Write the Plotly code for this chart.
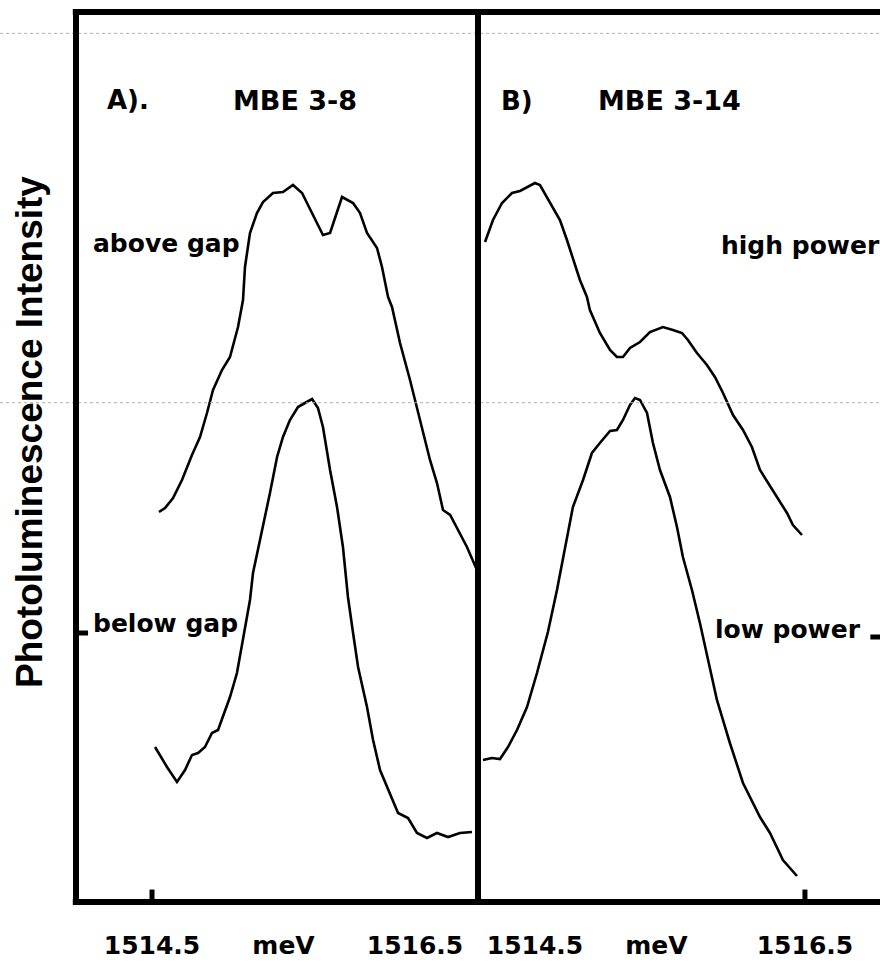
import plotly.graph_objects as go

# ---------------- data (energy in meV, intensity in arbitrary units) ----------------
a_above_x = [1514.553, 1514.599, 1514.660, 1514.728, 1514.804, 1514.865, 1514.918, 1514.964,
             1515.032, 1515.093, 1515.154, 1515.192, 1515.207, 1515.245, 1515.298, 1515.344,
             1515.420, 1515.496, 1515.572, 1515.641, 1515.724, 1515.800, 1515.854, 1515.907,
             1515.945, 1516.029, 1516.082, 1516.135, 1516.211, 1516.249, 1516.295, 1516.325,
             1516.386, 1516.462, 1516.538, 1516.614, 1516.667, 1516.713, 1516.767, 1516.827,
             1516.895, 1516.971]
a_above_y = [390, 394, 404, 422, 447, 465, 489, 512,
             532, 545, 575, 602, 635, 669, 689, 700,
             709, 710, 717, 709, 687, 667, 669, 689,
             705, 699, 689, 669, 654, 635, 605, 595,
             559, 522, 482, 442, 419, 392, 387, 372,
             355, 332]

a_below_x = [1514.523, 1514.614, 1514.690, 1514.751, 1514.804, 1514.850, 1514.903, 1514.956,
             1515.002, 1515.040, 1515.093, 1515.146, 1515.192, 1515.245, 1515.268, 1515.344,
             1515.397, 1515.451, 1515.496, 1515.549, 1515.610, 1515.663, 1515.717, 1515.762,
             1515.800, 1515.854, 1515.907, 1515.952, 1515.990, 1516.029, 1516.067, 1516.135,
             1516.181, 1516.234, 1516.295, 1516.371, 1516.447, 1516.515, 1516.591, 1516.667,
             1516.751, 1516.842, 1516.933]
a_below_y = [155, 135, 120, 132, 147, 149, 155, 169,
             172, 185, 205, 229, 262, 302, 329, 375,
             409, 445, 465, 482, 495, 499, 503, 494,
             475, 432, 395, 355, 305, 269, 235, 195,
             162, 132, 112, 89, 84, 69, 64, 69,
             65, 69, 70]

b_high_x = [1514.130, 1514.189, 1514.256, 1514.330, 1514.389, 1514.441, 1514.500, 1514.537,
            1514.589, 1514.648, 1514.685, 1514.737, 1514.811, 1514.833, 1514.885, 1514.907,
            1514.981, 1515.056, 1515.107, 1515.152, 1515.204, 1515.278, 1515.352, 1515.448,
            1515.522, 1515.589, 1515.633, 1515.700, 1515.774, 1515.833, 1515.893, 1515.967,
            1516.041, 1516.107, 1516.167, 1516.226, 1516.293, 1516.367, 1516.411, 1516.478]
b_high_y = [660, 682, 699, 709, 711, 715, 719, 717,
            705, 692, 682, 662, 632, 622, 605, 592,
            569, 552, 545, 545, 554, 560, 570, 575,
            572, 569, 562, 549, 537, 525, 509, 487,
            472, 455, 432, 419, 405, 389, 377, 367]

b_low_x = [1514.115, 1514.181, 1514.241, 1514.300, 1514.367, 1514.441, 1514.515, 1514.596,
           1514.663, 1514.737, 1514.781, 1514.856, 1514.922, 1514.981, 1515.056, 1515.107,
           1515.152, 1515.204, 1515.241, 1515.278, 1515.330, 1515.374, 1515.426, 1515.500,
           1515.552, 1515.596, 1515.663, 1515.722, 1515.744, 1515.848, 1515.944, 1516.041,
           1516.167, 1516.241, 1516.337, 1516.441]
b_low_y = [142, 144, 143, 155, 172, 195, 229, 270,
           312, 362, 395, 422, 449, 459, 471, 472,
           482, 497, 504, 502, 489, 459, 432, 405,
           375, 345, 312, 279, 265, 202, 159, 119,
           85, 69, 42, 26]

a_tick_vals = [1514.5, 1515.5, 1516.5]
b_tick_vals = [1514.5, 1515.4, 1516.5]
tick_text = ["1514.5", "meV", "1516.5"]
y_tick_val = 269

LABEL_FONT = dict(family="DejaVu Sans", size=25, color="black", weight="bold")

fig = go.Figure()
line = dict(color="black", width=2.6)
fig.add_trace(go.Scatter(x=a_above_x, y=a_above_y, mode="lines", line=line, xaxis="x", yaxis="y"))
fig.add_trace(go.Scatter(x=a_below_x, y=a_below_y, mode="lines", line=line, xaxis="x", yaxis="y"))
fig.add_trace(go.Scatter(x=b_high_x, y=b_high_y, mode="lines", line=line, xaxis="x2", yaxis="y"))
fig.add_trace(go.Scatter(x=b_low_x, y=b_low_y, mode="lines", line=line, xaxis="x2", yaxis="y"))

xcommon = dict(showgrid=False, zeroline=False, showline=False, ticks="",
               tickfont=LABEL_FONT, ticklabelstandoff=26, fixedrange=True)
fig.update_layout(
    width=880, height=964,
    margin=dict(l=76, r=0, t=12, b=62),
    paper_bgcolor="white", plot_bgcolor="white",
    showlegend=False,
    xaxis=dict(domain=[0, 0.5], range=[1513.922, 1516.979], tickvals=a_tick_vals,
               ticktext=tick_text, **xcommon),
    xaxis2=dict(domain=[0.5, 1.0], range=[1514.078, 1517.056], tickvals=b_tick_vals,
                ticktext=tick_text, anchor="y", **xcommon),
    yaxis=dict(range=[0, 890], showgrid=False, zeroline=False, showline=False,
               showticklabels=False, ticks="", fixedrange=True),
)

shapes = []
# faint fold lines of the scanned page
for yv in [0.976, 0.561]:
    shapes.append(dict(type="line", xref="paper", yref="paper", x0=-0.0945, x1=1.0,
                       y0=yv, y1=yv, line=dict(color="#b0b0b0", width=1, dash="dot")))
# frame
fw = 6
shapes += [
    dict(type="line", xref="paper", yref="paper", x0=0, x1=0, y0=-0.003, y1=1.003,
         line=dict(color="black", width=fw)),
    dict(type="line", xref="paper", yref="paper", x0=0.5, x1=0.5, y0=-0.003, y1=1.003,
         line=dict(color="black", width=fw)),
    dict(type="line", xref="paper", yref="paper", x0=-0.004, x1=1.0, y0=0, y1=0,
         line=dict(color="black", width=fw)),
    dict(type="line", xref="paper", yref="paper", x0=-0.004, x1=1.0, y0=1, y1=1,
         line=dict(color="black", width=fw)),
]
# tick marks
shapes += [
    dict(type="line", xref="x", yref="paper", x0=a_tick_vals[0], x1=a_tick_vals[0], y0=0, y1=0.014,
         line=dict(color="black", width=5)),
    dict(type="line", xref="x2", yref="paper", x0=b_tick_vals[2], x1=b_tick_vals[2], y0=0, y1=0.014,
         line=dict(color="black", width=5)),
    dict(type="line", xref="paper", yref="y", x0=0, x1=0.015, y0=y_tick_val, y1=y_tick_val,
         line=dict(color="black", width=5)),
    dict(type="line", xref="paper", yref="y", x0=0.988, x1=1.0, y0=y_tick_val - 4, y1=y_tick_val - 4,
         line=dict(color="black", width=5)),
]
fig.update_layout(shapes=shapes)

def label(text, x, y, size=25, **kw):
    f = dict(LABEL_FONT)
    f["size"] = size
    fig.add_annotation(text=text, x=x, y=y, xref="paper", yref="paper", showarrow=False,
                       xanchor="center", yanchor="middle", font=f, **kw)

label("A).", 0.0647, 0.901, size=26)
label("MBE 3-8", 0.272, 0.901, size=27)
label("B)", 0.5485, 0.900, size=26)
label("MBE 3-14", 0.7376, 0.900, size=27)
label("above gap", 0.112, 0.7404)
label("high power", 0.9017, 0.738)
label("below gap", 0.1107, 0.3124)
label("low power", 0.8856, 0.3067)

fig.add_annotation(text="Photoluminescence Intensity", x=-0.0585, y=0.528, xref="paper", yref="paper",
                   showarrow=False, textangle=-90, xanchor="center", yanchor="middle",
                   font=dict(family="Liberation Sans", size=37, color="black", weight="bold"))

fig.write_html("out.html")
